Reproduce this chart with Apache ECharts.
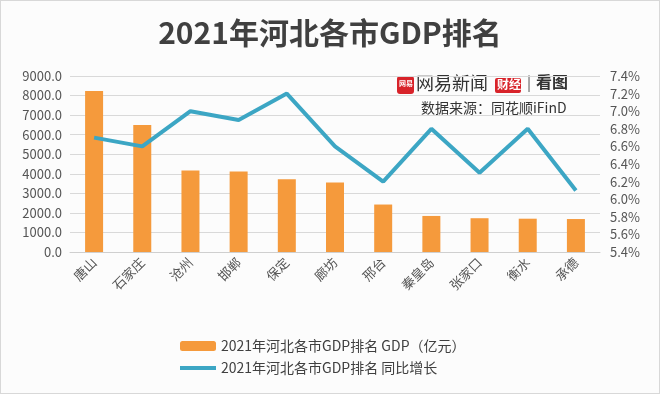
<!DOCTYPE html>
<html lang="zh">
<head>
    <meta charset="UTF-8">
    <title>2021年河北各市GDP排名</title>
    <script src="https://cdn.jsdelivr.net/npm/echarts@6/dist/echarts.min.js"></script>
    <style>
        html, body { margin: 0; padding: 0; background: #fff; }
        #chart {
            width: 658px;
            height: 392px;
            border: 1px solid #d8d8d8;
            background: #fcfcfc;
        }
    </style>
</head>
<body>
    <div id="chart"></div>
    <script>
        // 城市
        const cities = ['唐山', '石家庄', '沧州', '邯郸', '保定', '廊坊', '邢台', '秦皇岛', '张家口', '衡水', '承德'];
        // GDP（亿元）
        const gdp = [8230.6, 6490.3, 4163.4, 4114.8, 3725.0, 3553.1, 2427.1, 1843.8, 1727.8, 1703.0, 1685.5];
        // 同比增长 (%)
        const growth = [6.7, 6.6, 7.0, 6.9, 7.2, 6.6, 6.2, 6.8, 6.3, 6.8, 6.1];

        const barName = '2021年河北各市GDP排名 GDP（亿元）';
        const lineName = '2021年河北各市GDP排名 同比增长';
        const font = '"Noto Sans CJK SC", "Noto Sans", sans-serif';

        const myChart = echarts.init(document.getElementById('chart'));

        const option = {
            animation: false,
            title: {
                text: '2021年河北各市GDP排名',
                left: 'center',
                top: 12,
                textStyle: { fontFamily: font, fontWeight: 'bold', fontSize: 30, color: '#404040' }
            },
            grid: { left: 69, right: 59, top: 75, bottom: 141 },
            legend: {
                orient: 'vertical',
                left: 172,
                top: 333,
                itemWidth: 36,
                itemHeight: 10,
                itemGap: 8,
                data: [
                    { name: barName },
                    { name: lineName, itemStyle: { opacity: 0 }, lineStyle: { width: 4 } }
                ],
                textStyle: { fontFamily: font, fontSize: 14, color: '#404040' }
            },
            xAxis: {
                type: 'category',
                data: cities,
                axisLine: { lineStyle: { color: '#cfcfcf' } },
                axisTick: { show: false },
                axisLabel: { rotate: 45, margin: 8, fontFamily: font, fontSize: 13, color: '#555' }
            },
            yAxis: [{
                type: 'value',
                min: 0,
                max: 9000,
                interval: 1000,
                axisLabel: { formatter: v => v.toFixed(1), fontFamily: font, fontSize: 13, color: '#555', margin: 8 },
                splitLine: { lineStyle: { color: '#d9d9d9' } }
            }, {
                type: 'value',
                min: 5.4,
                max: 7.4,
                interval: 0.2,
                axisLabel: { formatter: v => v.toFixed(1) + '%', fontFamily: font, fontSize: 13, color: '#555', margin: 10 },
                splitLine: { show: false }
            }],
            series: [{
                name: barName,
                type: 'bar',
                data: gdp,
                barWidth: 18,
                itemStyle: { color: '#f59a3c' }
            }, {
                name: lineName,
                type: 'line',
                yAxisIndex: 1,
                data: growth,
                symbol: 'none',
                lineStyle: { color: '#3ca6c4', width: 4 },
                itemStyle: { color: '#3ca6c4' }
            }],
            graphic: [
                { type: 'rect', left: 396, top: 75, shape: { width: 17, height: 18, r: 3 }, style: { fill: '#d8232a' } },
                { type: 'text', left: 398, top: 79, style: { text: '网易', fill: '#fff', font: 'bold 7px ' + font } },
                { type: 'text', left: 415, top: 73, style: { text: '网易新闻', fill: '#333', font: '18px ' + font } },
                { type: 'rect', left: 494, top: 77, shape: { width: 26, height: 15, r: 2 }, style: { fill: '#d8232a' } },
                { type: 'text', left: 496, top: 77, style: { text: '财经', fill: '#fff', font: 'bold 12px ' + font } },
                { type: 'text', left: 526, top: 74, style: { text: '|', fill: '#555', font: '15px ' + font } },
                { type: 'text', left: 535, top: 73, style: { text: '看图', fill: '#333', font: 'bold 16px ' + font } },
                { type: 'text', left: 420, top: 100, style: { text: '数据来源：同花顺iFinD', fill: '#333', font: '14px ' + font } }
            ]
        };

        myChart.setOption(option);
    </script>
</body>
</html>
